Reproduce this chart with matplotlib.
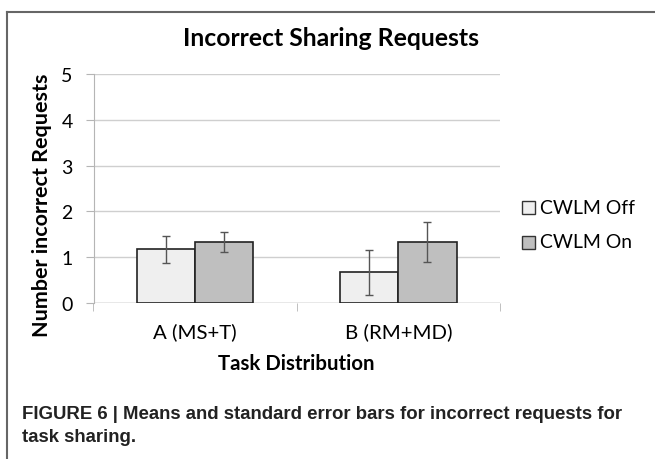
import matplotlib
matplotlib.use("Agg")
import matplotlib.pyplot as plt
from matplotlib.lines import Line2D
from matplotlib.patches import Rectangle
import numpy as np

categories = ["A (MS+T)", "B (RM+MD)"]
series_names = ["CWLM Off", "CWLM On"]
means_off = [1.17, 0.67]
means_on = [1.33, 1.33]
err_off = [0.30, 0.49]
err_on = [0.21, 0.43]
yticks = [0, 1, 2, 3, 4, 5]

W, H = 655, 460
fig = plt.figure(figsize=(W / 100, H / 100), dpi=100)
fig.patch.set_facecolor("white")
renderer = fig.canvas.get_renderer()

FONT = "Lato"
CAPFONT = "Liberation Sans"
colors = ["#efefef", "#bfbfbf"]


def fx(px):
    return px / W


def fy(py):
    return 1 - py / H


def fit(t, target, vertical=False):
    bb = t.get_window_extent(renderer)
    cur = bb.height if vertical else bb.width
    t.set_fontsize(t.get_fontsize() * target / cur)


ax = fig.add_axes([fx(93.5), fy(304), fx(500 - 93.5), (304 - 75) / H])
x = np.arange(len(categories))
bw = 0.286
ax.bar(x - bw / 2, means_off, bw, color=colors[0], edgecolor="#222222", linewidth=1.2, zorder=3)
ax.bar(x + bw / 2, means_on, bw, color=colors[1], edgecolor="#222222", linewidth=1.2, zorder=3)
ax.errorbar(x - bw / 2, means_off, yerr=err_off, fmt="none", ecolor="#555555",
            elinewidth=1.0, capsize=2.6, capthick=1.0, zorder=4)
ax.errorbar(x + bw / 2, means_on, yerr=err_on, fmt="none", ecolor="#555555",
            elinewidth=1.0, capsize=2.6, capthick=1.0, zorder=4)

ax.set_xlim(-0.5, 1.5)
ax.set_ylim(0, 5)
ax.set_yticks(yticks)
ax.set_yticklabels([str(v) for v in yticks], fontsize=14, family=FONT)
ax.yaxis.grid(True, color="#cfcfcf", linewidth=1.0, zorder=0)
ax.set_axisbelow(True)
for s in ["top", "right", "bottom"]:
    ax.spines[s].set_visible(False)
ax.spines["left"].set_color("#b5b5b5")
ax.tick_params(axis="y", length=6, color="#b5b5b5", pad=9)
ax.set_xticks(x)
ax.set_xticklabels(categories, family=FONT, fontsize=12.5)
ax.tick_params(axis="x", which="major", length=0, pad=14)
ax.set_xticks([-0.5, 0.5, 1.5], minor=True)
ax.tick_params(axis="x", which="minor", length=6, color="#b5b5b5")
ax.axhline(0, color="#b5b5b5", linewidth=1.0, zorder=2)

fig.canvas.draw()
for lbl in ax.get_xticklabels():
    if lbl.get_text() == categories[0]:
        bb = lbl.get_window_extent(renderer)
        s = lbl.get_fontsize() * 84 / bb.width
for lbl in ax.get_xticklabels():
    lbl.set_fontsize(s)

title = fig.text(fx(331), fy(38.5), "Incorrect Sharing Requests", ha="center", va="center",
                 fontsize=16, fontweight="bold", family=FONT)
fit(title, 298)
ylab = fig.text(fx(42), fy(205), "Number incorrect Requests", ha="center", va="center",
                rotation=90, fontsize=14, fontweight="bold", family=FONT)
fit(ylab, 264, vertical=True)
xlab = fig.text(fx(296.5), fy(364.5), "Task Distribution", ha="center", va="center",
                fontsize=14, fontweight="bold", family=FONT)
fit(xlab, 157)

# legend
leg_y = [208, 243]
for name, c, yy in zip(series_names, colors, leg_y):
    fig.add_artist(Rectangle((fx(522), fy(yy + 6.5)), fx(13), 13 / H, facecolor=c,
                             edgecolor="#333333", linewidth=1.0, transform=fig.transFigure))
    t = fig.text(fx(540), fy(yy), name, ha="left", va="center", fontsize=13, family=FONT)
    if name == series_names[0]:
        fit(t, 95)
        legsize = t.get_fontsize()
    else:
        t.set_fontsize(legsize)

cap1 = fig.text(fx(22), fy(415), "FIGURE 6 | Means and standard error bars for incorrect requests for",
                ha="left", va="center", fontsize=13, fontweight="bold", family=CAPFONT, color="#222222")
fit(cap1, 601)
cap2 = fig.text(fx(22), fy(438), "task sharing.", ha="left", va="center",
                fontsize=cap1.get_fontsize(), fontweight="bold", family=CAPFONT, color="#222222")

fig.add_artist(Line2D([fx(7), fx(7)], [fy(13), 0], color="#666666", linewidth=1.5))
fig.add_artist(Line2D([fx(7), 1], [fy(13), fy(13)], color="#666666", linewidth=1.5))

fig.savefig("out.png", dpi=100)
